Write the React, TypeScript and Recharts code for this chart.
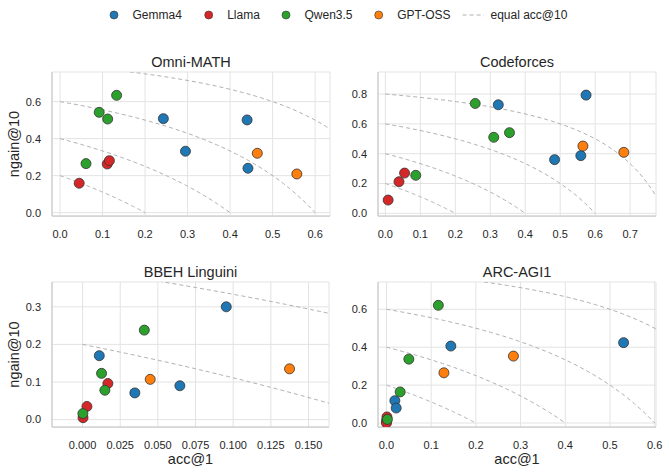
import { CartesianGrid, ComposedChart, Label, Line, Scatter, XAxis, YAxis } from "recharts";

const FONT = '"Liberation Sans", Arial, sans-serif';
const TEXT = "#262626";
const SPINE = "#cccccc";
const GRID = "#e3e3e3";
const CURVE = "#b0b0b0";

const MODELS = ["Gemma4", "Llama", "Qwen3.5", "GPT-OSS"];
const COLORS = ["#1f77b4", "#d62728", "#2ca02c", "#ff7f0e"];
// equal acc@10 contour levels
const LEVELS = [0.2, 0.4, 0.6, 0.8];

// [acc@1, ngain@10] per model
const omniGemma = [[0.243, 0.508], [0.44, 0.501], [0.295, 0.332], [0.442, 0.24]];
const omniLlama = [[0.045, 0.159], [0.111, 0.263], [0.116, 0.281]];
const omniQwen = [[0.133, 0.634], [0.092, 0.542], [0.112, 0.506], [0.061, 0.265]];
const omniGpt = [[0.464, 0.321], [0.557, 0.209]];

const cfGemma = [[0.574, 0.793], [0.323, 0.728], [0.484, 0.36], [0.559, 0.387]];
const cfLlama = [[0.008, 0.089], [0.039, 0.212], [0.055, 0.27]];
const cfQwen = [[0.257, 0.737], [0.31, 0.51], [0.355, 0.541], [0.087, 0.255]];
const cfGpt = [[0.565, 0.451], [0.682, 0.409]];

const bbGemma = [[0.0954, 0.3], [0.0111, 0.17], [0.0347, 0.071], [0.0646, 0.09]];
const bbLlama = [[0.0168, 0.096], [0.0029, 0.035], [0.0003, 0.005]];
const bbQwen = [[0.041, 0.238], [0.0126, 0.123], [0.0148, 0.078], [0.0002, 0.016]];
const bbGpt = [[0.0449, 0.107], [0.1374, 0.135]];

const arcGemma = [[0.5305, 0.424], [0.144, 0.406], [0.0187, 0.118], [0.0217, 0.079]];
const arcLlama = [[0.001, 0.032], [0.0, 0.012], [0.0, 0.0]];
const arcQwen = [[0.116, 0.621], [0.05, 0.337], [0.0306, 0.164], [0.002, 0.019]];
const arcGpt = [[0.1285, 0.265], [0.284, 0.353]];

const TICKS_06 = [0, 0.1, 0.2, 0.3, 0.4, 0.5, 0.6];
const TICKS_07 = [0, 0.1, 0.2, 0.3, 0.4, 0.5, 0.6, 0.7];
const TICKS_BB = [0, 0.025, 0.05, 0.075, 0.1, 0.125, 0.15];
const Y_06 = [0, 0.2, 0.4, 0.6];
const Y_08 = [0, 0.2, 0.4, 0.6, 0.8];
const Y_03 = [0, 0.1, 0.2, 0.3];

const PANELS = [
  {
    title: "Omni-MATH", series: [omniGemma, omniLlama, omniQwen, omniGpt],
    xDomain: [-0.019, 0.635], yDomain: [-0.018, 0.76], xTicks: TICKS_06, yTicks: Y_06, digits: 1,
    box: { left: 0, top: 40, width: 335, height: 200 }, yWidth: 52, right: 5, top: 32, xHeight: 24, first: true, last: false,
  },
  {
    title: "Codeforces", series: [cfGemma, cfLlama, cfQwen, cfGpt],
    xDomain: [-0.021, 0.774], yDomain: [-0.018, 0.948], xTicks: TICKS_07, yTicks: Y_08, digits: 1,
    box: { left: 335, top: 40, width: 334, height: 200 }, yWidth: 43, right: 13, top: 32, xHeight: 24, first: false, last: false,
  },
  {
    title: "BBEH Linguini", series: [bbGemma, bbLlama, bbQwen, bbGpt],
    xDomain: [-0.0203, 0.1636], yDomain: [-0.0197, 0.366], xTicks: TICKS_BB, yTicks: Y_03, digits: 3,
    box: { left: 0, top: 240, width: 335, height: 234 }, yWidth: 52, right: 6, top: 42, xHeight: 47, first: true, last: true,
  },
  {
    title: "ARC-AGI1", series: [arcGemma, arcLlama, arcQwen, arcGpt],
    xDomain: [-0.019, 0.603], yDomain: [-0.021, 0.744], xTicks: TICKS_06, yTicks: Y_06, digits: 1,
    box: { left: 335, top: 240, width: 334, height: 234 }, yWidth: 43, right: 13, top: 42, xHeight: 47, first: false, last: true,
  },
];

function contour(level: number, xMax: number) {
  const end = Math.min(level, xMax);
  const pts = [];
  for (let i = 0; i <= 80; i++) {
    const x = (end * i) / 80;
    pts.push({ x, y: (level - x) / (1 - x) });
  }
  return pts;
}

const Dot = (p: any) => (
  <circle cx={p.cx} cy={p.cy} r={5} fill={p.fill} stroke="#333" strokeWidth={0.8} />
);

function Panel({ p }: { p: (typeof PANELS)[number] }) {
  const { box } = p;
  const plotH = box.height - p.top - p.xHeight;
  return (
    <div style={{ position: "absolute", left: box.left, top: box.top }}>
      <ComposedChart
        width={box.width}
        height={box.height}
        margin={{ top: p.top, right: p.right, bottom: 0, left: 0 }}
      >
        <CartesianGrid stroke={GRID} strokeWidth={1} />
        <XAxis
          type="number"
          dataKey="x"
          domain={p.xDomain}
          ticks={p.xTicks}
          interval={0}
          allowDataOverflow
          height={p.xHeight}
          tickLine={false}
          tickSize={0}
          tickMargin={14}
          axisLine={{ stroke: SPINE, strokeWidth: 1.25 }}
          tick={{ fill: TEXT, fontSize: 11, fontFamily: FONT }}
          tickFormatter={(v: number) => v.toFixed(p.digits)}
        >
          {p.last && (
            <Label value="acc@1" position="insideTop" offset={27} fill={TEXT} fontSize={14.5} fontFamily={FONT} />
          )}
        </XAxis>
        <YAxis
          type="number"
          dataKey="y"
          domain={p.yDomain}
          ticks={p.yTicks}
          interval={0}
          allowDataOverflow
          width={p.yWidth}
          tickLine={false}
          tickSize={0}
          tickMargin={11}
          axisLine={{ stroke: SPINE, strokeWidth: 1.25 }}
          tick={{ fill: TEXT, fontSize: 11, fontFamily: FONT }}
          tickFormatter={(v: number) => v.toFixed(1)}
        />
        {LEVELS.map((c) => (
          <Line
            key={"c" + c}
            data={contour(c, p.xDomain[1])}
            dataKey="y"
            type="linear"
            stroke={CURVE}
            strokeWidth={1}
            strokeDasharray="4 3"
            dot={false}
            activeDot={false}
            isAnimationActive={false}
          />
        ))}
        {p.series.map((s, i) => (
          <Scatter
            key={MODELS[i]}
            name={MODELS[i]}
            data={s.map(([x, y]) => ({ x, y }))}
            fill={COLORS[i]}
            shape={Dot}
            isAnimationActive={false}
          />
        ))}
      </ComposedChart>
      <svg
        width={box.width}
        height={box.height}
        style={{ position: "absolute", left: 0, top: 0, pointerEvents: "none" }}
      >
        <text
          x={p.yWidth + (box.width - p.yWidth - p.right) / 2}
          y={p.top - 5.5}
          textAnchor="middle"
          fill={TEXT}
          fontSize={14.5}
          fontFamily={FONT}
        >
          {p.title}
        </text>
        {p.first && (
          <text
            transform={`translate(${19 - box.left}, ${p.top + plotH / 2}) rotate(-90)`}
            textAnchor="middle"
            fill={TEXT}
            fontSize={14.5}
            fontFamily={FONT}
          >
            ngain@10
          </text>
        )}
      </svg>
    </div>
  );
}

const LEGEND_X = [114, 208.7, 286, 378.7];

export default function App() {
  return (
    <div
      style={{
        position: "absolute",
        left: 0,
        top: 0,
        width: 669,
        height: 474,
        background: "#fff",
        fontFamily: FONT,
      }}
    >
      <svg width={669} height={30} style={{ position: "absolute", left: 0, top: 0 }}>
        {MODELS.map((m, i) => (
          <g key={m}>
            <circle cx={LEGEND_X[i]} cy={15} r={4} fill={COLORS[i]} stroke="#333" strokeWidth={0.6} />
            <text x={LEGEND_X[i] + 18.5} y={19.3} fill={TEXT} fontSize={12} fontFamily={FONT}>
              {m}
            </text>
          </g>
        ))}
        <line x1={462.6} x2={484} y1={15} y2={15} stroke={CURVE} strokeWidth={1} strokeDasharray="4 3" />
        <text x={490.5} y={19.3} fill={TEXT} fontSize={12} fontFamily={FONT}>
          equal acc@10
        </text>
      </svg>
      {PANELS.map((p) => (
        <Panel key={p.title} p={p} />
      ))}
    </div>
  );
}
